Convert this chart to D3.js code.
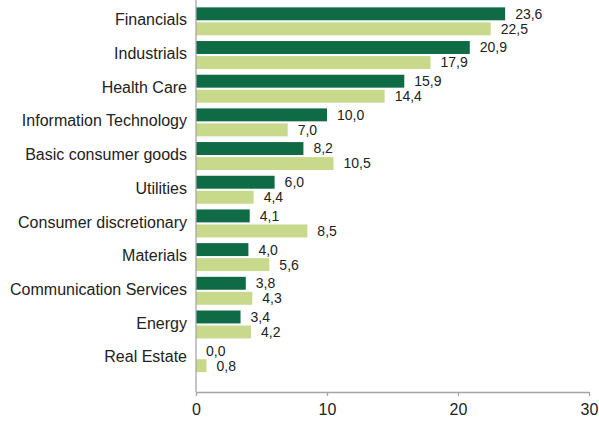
<!DOCTYPE html>
<html>
<head>
<meta charset="utf-8">
<script src="https://cdn.jsdelivr.net/npm/d3@7"></script>
<style>
  body { margin: 0; background: #fff; }
  text { font-family: "Liberation Sans", Arial, sans-serif; fill: #222; }
</style>
</head>
<body>
<svg id="chart" width="599" height="423"></svg>
<script>
var sectors = ['Financials', 'Industrials', 'Health Care', 'Information Technology',
    'Basic consumer goods', 'Utilities', 'Consumer discretionary', 'Materials',
    'Communication Services', 'Energy', 'Real Estate']
var seriesA = [23.6, 20.9, 15.9, 10.0, 8.2, 6.0, 4.1, 4.0, 3.8, 3.4, 0.0]
var seriesB = [22.5, 17.9, 14.4, 7.0, 10.5, 4.4, 8.5, 5.6, 4.3, 4.2, 0.8]
var xTicks = [0, 10, 20, 30]
var colors = ['#0e6b45', '#c8d98c']

var svg = d3.select('#chart'),
    margin = {top: 4.5, left: 196, right: 10},
    axisY = 392

var x = d3.scaleLinear().domain([0, 30]).range([margin.left, 589])
var y = d3.scaleBand().domain(sectors).range([margin.top, 375]).paddingInner(0.17).paddingOuter(0.085)
var sub = d3.scaleBand().domain([0, 1]).range([0, y.bandwidth()]).paddingInner(0.14)

var rows = sectors.map(function(s, i) { return {name: s, vals: [seriesA[i], seriesB[i]]} })

var fmt = function(v) { return v.toFixed(1).replace('.', ',') }

var g = svg.selectAll('.row')
    .data(rows)
    .enter().append('g')
    .attr('class', 'row')
    .attr('transform', function(d) { return 'translate(0,' + y(d.name) + ')' })

g.selectAll('rect')
    .data(function(d) { return d.vals })
    .enter().append('rect')
    .attr('x', x(0))
    .attr('y', function(d, i) { return sub(i) })
    .attr('width', function(d) { return x(d) - x(0) })
    .attr('height', sub.bandwidth())
    .attr('fill', function(d, i) { return colors[i] })

g.selectAll('.val')
    .data(function(d) { return d.vals })
    .enter().append('text')
    .attr('class', 'val')
    .attr('x', function(d) { return x(d) + 10 })
    .attr('y', function(d, i) { return sub(i) + sub.bandwidth() / 2 })
    .attr('dy', '0.35em')
    .style('font-size', '14px')
    .text(fmt)

// category labels, sit a touch above the group centre
g.append('text')
    .attr('x', 187)
    .attr('y', y.bandwidth() / 2 - 1.5)
    .attr('dy', '0.35em')
    .attr('text-anchor', 'end')
    .style('font-size', '16px')
    .text(function(d) { return d.name })

// y axis line
svg.append('line')
    .attr('x1', x(0)).attr('x2', x(0))
    .attr('y1', 0).attr('y2', axisY)
    .attr('stroke', '#a6a6a6')
    .attr('stroke-width', 1.3)

var xAxis = svg.append('g')
    .attr('transform', 'translate(0,' + axisY + ')')
    .call(d3.axisBottom(x).tickValues(xTicks).tickSize(4).tickPadding(8).tickSizeOuter(0))
xAxis.select('.domain').attr('stroke', '#a6a6a6').attr('stroke-width', 1.3)
xAxis.selectAll('.tick line').attr('stroke', '#a6a6a6').attr('stroke-width', 1.3)
xAxis.selectAll('.tick text')
    .style('font-family', '"Liberation Sans", Arial, sans-serif')
    .style('font-size', '16px')
    .attr('fill', '#222')
</script>
</body>
</html>
